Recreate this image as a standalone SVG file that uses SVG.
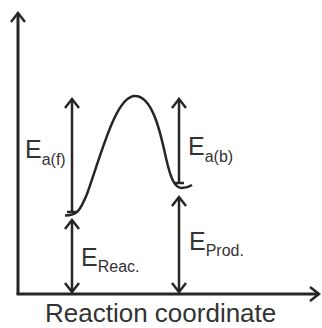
<svg xmlns="http://www.w3.org/2000/svg" width="322" height="328" viewBox="0 0 322 328">
<defs>
<style>
.ln{fill:none;stroke:#262626;stroke-width:2.5;}
.ax{fill:none;stroke:#262626;stroke-width:3;}
.E{font-family:"Liberation Sans",Arial,sans-serif;font-size:25px;fill:#333;}
.sub{font-size:16px;}
.lbl{font-family:"Liberation Sans",Arial,sans-serif;font-size:26px;fill:#333;}
</style>
<marker id="ah" markerUnits="userSpaceOnUse" viewBox="-12 -9 14 18" refX="0" refY="0" markerWidth="14" markerHeight="18" orient="auto-start-reverse" overflow="visible">
<path d="M -9 -7 L 0 0 L -9 7" fill="none" stroke="#262626" stroke-width="2.5"/>
</marker>
</defs>
<rect width="322" height="328" fill="#fff"/>
<g id="axes">
<path class="ax" d="M18 294 L18 13" marker-end="url(#ah)"/>
<path class="ax" d="M16.5 294 L319 294" marker-end="url(#ah)"/>
</g>
<g id="curve">
<path class="ln" d="M65 215.5 C77 215.5 80 211 87 194 C102 152 116 96 135 96 C152 96 160 130 166 158 C171 180 175 188 182 188 C186 188 189 187 192 185"/>
</g>
<g id="connectors">
<path class="ln" d="M72 212 L72 99" marker-end="url(#ah)"/>
<path class="ln" d="M67 212 L77 212"/>
<path class="ln" d="M72 220 L72 292" marker-start="url(#ah)" marker-end="url(#ah)"/>
<path class="ln" d="M179 183 L179 99" marker-end="url(#ah)"/>
<path class="ln" d="M174 183 L184 183"/>
<path class="ln" d="M179 197 L179 292" marker-start="url(#ah)" marker-end="url(#ah)"/>
</g>
<g id="label-eaf"><text class="E" x="25" y="158">E<tspan class="sub" dy="7">a(f)</tspan></text></g>
<g id="label-eab"><text class="E" x="188" y="155">E<tspan class="sub" dy="7">a(b)</tspan></text></g>
<g id="label-ereac"><text class="E" x="81" y="266">E<tspan class="sub" dy="6">Reac.</tspan></text></g>
<g id="label-eprod"><text class="E" x="189" y="250">E<tspan class="sub" dy="6">Prod.</tspan></text></g>
<g id="label-x"><text class="lbl" x="45" y="322">Reaction coordinate</text></g>
</svg>
